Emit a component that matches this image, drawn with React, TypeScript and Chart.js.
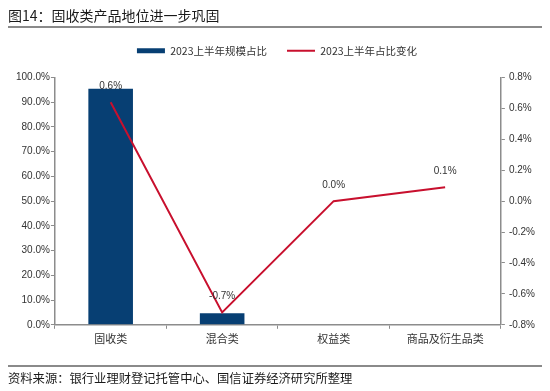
import React, { useEffect, useRef } from "react";
import { Chart, registerables } from "chart.js";

Chart.register(...registerables);

// ---- Data ----
const titleText = "图14：固收类产品地位进一步巩固";
const sourceText = "资料来源：银行业理财登记托管中心、国信证券经济研究所整理";
const categories = ["固收类", "混合类", "权益类", "商品及衍生品类"];
const seriesNames = ["2023上半年规模占比", "2023上半年占比变化"];
const scaleShare = [95.5, 4.7, 0, 0]; // % of total scale
const shareChange = [0.64, -0.72, 0.0, 0.09]; // change in share, pct points
const leftAxis = [0, 100, 10]; // min, max, step
const rightAxis = [-0.8, 0.8, 0.2]; // min, max, step

const FONT = '"Liberation Sans", "Noto Sans CJK SC", sans-serif';
const CJK = '"Noto Sans CJK SC", "Liberation Sans", sans-serif';
const BLUE = "#073f73";
const RED = "#c8102e";
const AXIS = "#8c8c8c";

const fmtPct = (v: number) => {
  const n = Math.abs(v) < 1e-9 ? 0 : v;
  return n.toFixed(1) + "%";
};

const lineLabels = {
  id: "lineLabels",
  afterDatasetsDraw(chart: any) {
    const meta = chart.getDatasetMeta(1);
    const ctx = chart.ctx;
    ctx.save();
    ctx.font = `10px ${FONT}`;
    ctx.fillStyle = "#333";
    ctx.textAlign = "center";
    ctx.textBaseline = "middle";
    meta.data.forEach((pt: any, i: number) => {
      ctx.fillText(fmtPct(shareChange[i]), pt.x, pt.y - 16);
    });
    ctx.restore();
  },
};

const legendGap = {
  id: "legendGap",
  beforeLayout(chart: any) {
    const lg = chart.legend;
    if (lg && !lg._gapPatched) {
      const orig = lg.fit;
      lg.fit = function () {
        orig.call(this);
        this.height += 11.5;
      };
      lg._gapPatched = true;
    }
  },
};

export default function App() {
  const ref = useRef<HTMLCanvasElement | null>(null);

  useEffect(() => {
    if (!ref.current) return;
    const chart = new Chart(ref.current, {
      type: "bar",
      data: {
        labels: categories,
        datasets: [
          {
            type: "bar",
            label: seriesNames[0],
            data: scaleShare,
            backgroundColor: BLUE,
            borderWidth: 0,
            yAxisID: "y",
            order: 2,
            categoryPercentage: 1,
            barPercentage: 0.4,
          } as any,
          {
            type: "line",
            label: seriesNames[1],
            data: shareChange,
            borderColor: RED,
            backgroundColor: RED,
            borderWidth: 2,
            pointRadius: 0,
            pointHoverRadius: 0,
            tension: 0,
            yAxisID: "y1",
            order: 1,
          } as any,
        ],
      },
      options: {
        animation: false,
        responsive: true,
        maintainAspectRatio: false,
        layout: { padding: { top: 25.5, left: 15, right: 11, bottom: 43 } },
        plugins: {
          tooltip: { enabled: false },
          title: { display: false },
          legend: {
            display: true,
            position: "top",
            labels: {
              usePointStyle: true,
              pointStyleWidth: 28,
              boxHeight: 5,
              padding: 20,
              color: "#333",
              font: { size: 10.5, family: CJK },
              sort: (a: any, b: any) => a.datasetIndex - b.datasetIndex,
              generateLabels: (c: any) => {
                const items = (Chart.defaults.plugins.legend.labels as any).generateLabels(c);
                items.forEach((it: any) => {
                  if (it.datasetIndex === 0) {
                    it.pointStyle = "rect";
                    it.lineWidth = 0;
                  } else {
                    it.pointStyle = "line";
                    it.lineWidth = 2;
                    it.strokeStyle = RED;
                  }
                });
                return items;
              },
            },
          },
        },
        scales: {
          x: {
            grid: {
              display: true,
              drawOnChartArea: false,
              drawTicks: true,
              tickLength: 4,
              color: AXIS,
              offset: true,
            },
            border: { color: AXIS, width: 1.5 },
            ticks: {
              color: "#333",
              font: { size: 11, family: CJK },
              padding: 3,
              maxRotation: 0,
              autoSkip: false,
            },
          },
          y: {
            position: "left",
            min: leftAxis[0],
            max: leftAxis[1],
            grid: { drawOnChartArea: false, tickLength: 4, color: AXIS },
            border: { color: AXIS, width: 1.5 },
            ticks: {
              stepSize: leftAxis[2],
              color: "#333",
              font: { size: 10, family: FONT },
              padding: 1,
              callback: (v: any) => fmtPct(Number(v)),
            },
          },
          y1: {
            position: "right",
            min: rightAxis[0],
            max: rightAxis[1],
            grid: { drawOnChartArea: false, tickLength: 4, color: AXIS },
            border: { color: AXIS, width: 1.5 },
            ticks: {
              stepSize: rightAxis[2],
              color: "#333",
              font: { size: 10, family: FONT },
              padding: 4,
              callback: (v: any) => fmtPct(Number(v)),
            },
          },
        },
      },
      plugins: [legendGap, lineLabels],
    });
    return () => chart.destroy();
  }, []);

  return (
    <div
      style={{
        position: "absolute",
        left: 0,
        top: 0,
        width: 550,
        height: 391,
        background: "#fff",
        overflow: "hidden",
      }}
    >
      <div style={{ position: "absolute", left: 0, top: 0, width: 550, height: 391 }}>
        <canvas ref={ref} />
      </div>
      <div
        style={{
          position: "absolute",
          left: 8,
          top: 5,
          fontSize: 14,
          lineHeight: "20px",
          fontFamily: CJK,
          color: "#1a1a1a",
          whiteSpace: "nowrap",
        }}
      >
        {titleText}
      </div>
      <div style={{ position: "absolute", left: 8, top: 26, width: 534, height: 2, background: "#8a8a8a" }} />
      <div style={{ position: "absolute", left: 8, top: 365, width: 534, height: 2, background: "#8a8a8a" }} />
      <div
        style={{
          position: "absolute",
          left: 8,
          top: 370,
          fontSize: 12.3,
          lineHeight: "17px",
          fontFamily: CJK,
          color: "#1a1a1a",
          whiteSpace: "nowrap",
        }}
      >
        {sourceText}
      </div>
    </div>
  );
}
